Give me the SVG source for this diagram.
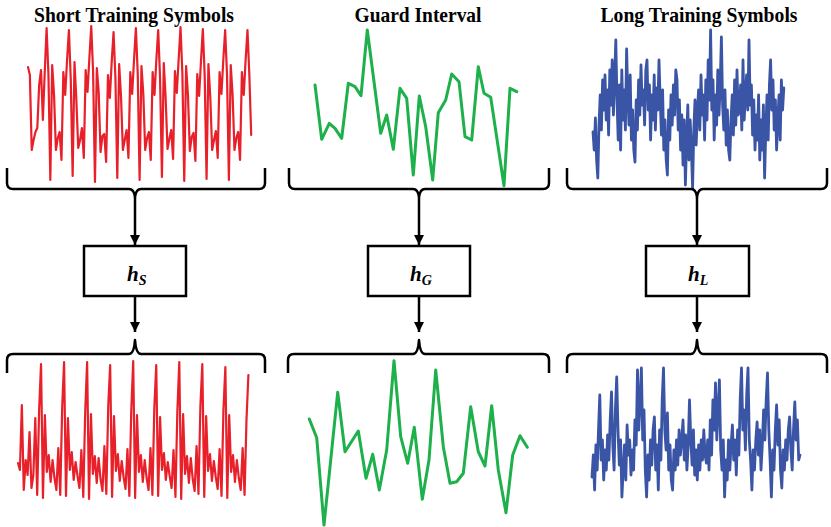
<svg xmlns="http://www.w3.org/2000/svg" width="831" height="527" viewBox="0 0 831 527">
<style>
.title{font-family:"Liberation Serif","Times New Roman",serif;font-weight:bold;font-size:21px;fill:#000;text-anchor:middle}
.lbl{font-family:"Liberation Serif","Times New Roman",serif;font-weight:bold;font-style:italic;font-size:21px;fill:#000}
.sub{font-size:14px}
.box{fill:#fff;stroke:#000;stroke-width:2.5}
.brace{fill:none;stroke:#000;stroke-width:2.5;stroke-linejoin:round}
.arrow{stroke:#000;stroke-width:2.5;fill:none;marker-end:url(#ah)}
.wave{fill:none;stroke-linejoin:round;stroke-linecap:round;vector-effect:non-scaling-stroke}
.red{stroke:#E8202A;stroke-width:2.2}
.green{stroke:#1DB04B;stroke-width:3}
.blue{stroke:#3B55A6;stroke-width:2.8}
</style>
<defs>
<marker id="ah" markerUnits="userSpaceOnUse" markerWidth="11" markerHeight="11" refX="10" refY="5.5" orient="auto">
<path d="M0,0.5 L10,5.5 L0,10.5 z" fill="#000"/>
</marker>
</defs>
<rect width="831" height="527" fill="#fff"/>

<g id="titles">
<text class="title" x="134" y="22" textLength="200" lengthAdjust="spacingAndGlyphs">Short Training Symbols</text>
<text class="title" x="418" y="22" textLength="127" lengthAdjust="spacingAndGlyphs">Guard Interval</text>
<text class="title" x="699" y="22" textLength="197" lengthAdjust="spacingAndGlyphs">Long Training Symbols</text>
</g>

<g id="wave-sts-in">
<polyline class="wave red" transform="translate(28,0) scale(1.86,1)" points="0,67 1,75 2,150 3,140 4,132 5,128 6,85 7,70 8,120 9,72 10,28 11,75 12,180 13,65 14,95 15,150 16,138 17,132 18,160 19,72 20,95 21,60 22,30 23,80 24,176 25,62 26,100 27,148 28,140 29,128 30,158 31,70 32,92 33,58 34,26 35,72 36,182 37,68 38,92 39,152 40,136 41,134 42,162 43,75 44,98 45,62 46,32 47,78 48,178 49,64 50,96 51,150 52,140 53,130 54,158 55,72 56,94 57,60 58,28 59,74 60,180 61,66 62,94 63,150 64,138 65,132 66,160 67,72 68,95 69,60 70,30 71,78 72,177 73,63 74,98 75,149 76,139 77,130 78,159 79,71 80,93 81,59 82,27 83,74 84,181 85,66 86,95 87,151 88,137 89,133 90,161 91,74 92,96 93,61 94,29 95,76 96,179 97,64 98,97 99,150 100,140 101,131 102,158 103,72 104,94 105,60 106,30 107,75 108,180 109,65 110,95 111,150 112,138 113,132 114,160 115,72 116,95 117,60 118,30 119,75 120,135"/>
</g>

<g id="wave-gi-in">
<polyline class="wave green" points="315,85 321.7,139.3 329.3,123.3 335,128.3 341.7,138.3 348.3,83.3 355,86.7 361,95.7 367.3,30 380.7,133.3 386.7,115 393.3,149.3 400,88.3 406.7,98.3 413.3,175 419.3,96 425.7,126.7 432.7,180 438.3,112.7 445.7,100 451.7,74 459,81.7 465,136.7 471.7,140 478.3,66.7 484,93.3 490.7,97.3 504,185.7 510,88.3 516.7,91.7"/>
</g>

<g id="wave-lts-in">
<polyline class="wave blue" transform="translate(593,0) scale(1.2,1)" points="0,132 1,150 2,118 3,160 4,178 5,125 6,95 7,130 8,80 9,110 10,75 11,120 12,90 13,135 14,70 15,105 16,60 17,115 18,80 19,40 20,100 21,140 22,85 23,150 24,70 25,120 26,90 27,130 28,49 29,95 30,125 31,75 32,140 33,110 34,150 35,162 36,100 37,130 38,80 39,115 40,65 41,105 42,90 43,125 44,70 45,60 46,110 47,85 48,140 49,95 50,120 51,75 52,130 53,88 54,110 55,60 56,100 57,135 58,90 59,150 60,120 61,160 62,175 63,110 64,140 65,95 66,125 67,85 68,115 69,70 70,80 71,130 72,100 73,150 74,115 75,165 76,120 77,185 78,140 79,105 80,160 81,120 82,150 83,188 84,130 85,100 86,145 87,110 88,90 89,130 90,75 91,115 92,95 93,140 94,80 95,120 96,60 97,100 98,30 99,110 100,80 101,140 102,95 103,125 104,70 105,115 106,85 107,37 108,105 109,130 110,90 111,145 112,110 113,150 114,160 115,120 116,95 117,135 118,80 119,125 120,70 121,115 122,110 123,85 124,130 125,60 126,120 127,95 128,75 129,110 130,40 131,105 132,85 133,135 134,100 135,150 136,115 137,140 138,95 139,160 140,120 141,150 142,105 143,178 144,130 145,95 146,140 147,85 148,60 149,110 150,80 151,130 152,100 153,150 154,120 155,95 156,140 157,80 158,110 159,88"/>
</g>

<g id="node-hS">
<rect class="box" x="84" y="246" width="102" height="50"/>
<text class="lbl" x="127" y="281">h<tspan class="sub" dy="4">S</tspan></text>
</g>
<g id="node-hG">
<rect class="box" x="368" y="246" width="102" height="50"/>
<text class="lbl" x="410" y="281">h<tspan class="sub" dy="4">G</tspan></text>
</g>
<g id="node-hL">
<rect class="box" x="646" y="246" width="103" height="50"/>
<text class="lbl" x="688" y="281">h<tspan class="sub" dy="4">L</tspan></text>
</g>

<g id="connectors">
<path class="brace" d="M7,168 V183 Q7,189 13,189 H129 Q134,189 135,197 Q136,189 141,189 H259 Q265,189 265,183 V168"/>
<path class="brace" d="M289,168 V183 Q289,189 295,189 H413 Q418,189 419,197 Q420,189 425,189 H543 Q549,189 549,183 V168"/>
<path class="brace" d="M567,168 V183 Q567,189 573,189 H691 Q696,189 697,197 Q698,189 703,189 H821 Q827,189 827,183 V168"/>
<path class="arrow" d="M135,197 V245"/>
<path class="arrow" d="M419,197 V245"/>
<path class="arrow" d="M697,197 V245"/>
<path class="arrow" d="M135,297 V332"/>
<path class="arrow" d="M419,297 V332"/>
<path class="arrow" d="M697,297 V332"/>
<path class="brace" d="M7,373 V360 Q7,354 13,354 H129 Q134,354 135,340 Q136,354 141,354 H259 Q265,354 265,360 V373"/>
<path class="brace" d="M288,373 V360 Q288,354 294,354 H413 Q418,354 419,340 Q420,354 425,354 H543 Q549,354 549,360 V373"/>
<path class="brace" d="M567,373 V360 Q567,354 573,354 H691 Q696,354 697,340 Q698,354 703,354 H821 Q827,354 827,360 V373"/>
</g>

<g id="wave-sts-out">
<polyline class="wave red" transform="translate(18,0) scale(1.92,1)" points="0,463 1,470 2,405 3,490 4,460 5,475 6,432 7,488 8,475 9,418 10,495 11,410 12,364 13,498 14,415 15,472 16,455 17,482 18,460 19,478 20,490 21,448 22,495 23,408 24,362 25,496 26,418 27,470 28,452 29,480 30,462 31,476 32,488 33,450 34,497 35,412 36,362 37,499 38,414 39,474 40,456 41,483 42,458 43,479 44,491 45,446 46,494 47,406 48,365 49,497 50,416 51,471 52,454 53,481 54,461 55,477 56,489 57,449 58,496 59,410 60,361 61,498 62,415 63,472 64,455 65,482 66,460 67,478 68,490 69,448 70,495 71,408 72,365 73,496 74,417 75,470 76,453 77,480 78,462 79,476 80,488 81,450 82,497 83,411 84,362 85,499 86,414 87,474 88,456 89,483 90,458 91,479 92,491 93,446 94,494 95,406 96,364 97,497 98,416 99,471 100,454 101,481 102,461 103,477 104,489 105,449 106,496 107,410 108,367 109,498 110,415 111,472 112,455 113,482 114,460 115,478 116,490 117,448 118,495 119,420 120,375"/>
</g>

<g id="wave-gi-out">
<polyline class="wave green" points="309.3,419 316.7,437.7 324,525 337.7,392.3 345,451.7 358.3,431 366,478.3 372.7,454.3 379.3,490 386.7,450 394,360.7 400.7,436.7 407.7,463.3 414.3,427.3 422.3,499.3 429,460 435.7,370 443.3,446.7 450,483.3 456.7,481.7 463.3,473.3 470.7,406.7 478.3,451.7 485,466 491.7,405.7 498.3,470 506,512.7 512.7,455 520,435.7 527.3,447.3"/>
</g>

<g id="wave-lts-out">
<polyline class="wave blue" transform="translate(592,0) scale(1.3,1)" points="0,477 1,455 2,490 3,445 4,470 5,430 6,395 7,460 8,440 9,480 10,450 11,470 12,435 13,460 14,420 15,392 16,445 17,470 18,410 19,377 20,430 21,465 22,440 23,497 24,470 25,445 26,480 27,425 28,455 29,440 30,475 31,450 32,470 33,420 34,445 35,370 36,430 37,400 38,368 39,440 40,410 41,470 42,497 43,455 44,480 45,440 46,465 47,430 48,417 49,470 50,445 51,490 52,430 53,460 54,400 55,368 56,430 57,450 58,413 59,470 60,445 61,480 62,490 63,450 64,470 65,440 66,465 67,430 68,455 69,440 70,420 71,460 72,435 73,470 74,445 75,400 76,440 77,465 78,430 79,475 80,450 81,480 82,445 83,470 84,440 85,460 86,430 87,455 88,463 89,440 90,470 91,420 92,455 93,400 94,430 95,383 96,440 97,410 98,380 99,450 100,470 101,440 102,497 103,460 104,480 105,440 106,470 107,445 108,425 109,460 110,440 111,475 112,430 113,455 114,400 115,368 116,430 117,410 118,450 119,395 120,368 121,440 122,460 123,490 124,450 125,470 126,440 127,422 128,455 129,430 130,470 131,445 132,410 133,440 134,400 135,373 136,430 137,460 138,497 139,450 140,470 141,430 142,405 143,445 144,420 145,470 146,488 147,450 148,470 149,440 150,460 151,430 152,417 153,450 154,470 155,430 156,402 157,440 158,420 159,460 160,455"/>
</g>
</svg>
